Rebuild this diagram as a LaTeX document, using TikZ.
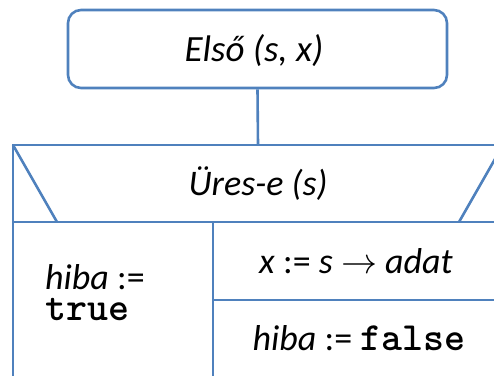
\RequirePackage{fix-cm}
\documentclass[tikz,border=0pt]{standalone}
\usepackage{fontspec}
\setmainfont{Carlito}
\newfontfamily\codefont{lmmonolt10-bold.otf}
\definecolor{nsblue}{RGB}{79,129,189}
\tikzset{
  nsline/.style={draw=nsblue, line width=2.6pt},
  txt/.style={inner sep=0pt, font=\fontsize{36}{30}\selectfont\itshape}
}
\newcommand{\asg}{\textup{:=}}
\newcommand{\cd}[1]{{\codefont\fontsize{40}{30}\selectfont #1}}
\begin{document}
\begin{tikzpicture}[x=1pt,y=-1pt]
\useasboundingbox (0,0) rectangle (494,375);
\clip (0,0) rectangle (494,375);
% start box
\node[nsline, rounded corners=13pt, minimum width=379pt, minimum height=78pt, inner sep=0pt] (start) at (257.5,49) {};
\node[txt, anchor=base, font=\fontsize{37}{30}\selectfont\itshape] (starttext) at (254,61) {Első (s, x)};
% structure corners
\coordinate (tl) at (13,145);
\coordinate (tr) at (503,145);
\coordinate (top) at (258,145);
\coordinate (hl) at (13,222);
\coordinate (hr) at (503,222);
\coordinate (dl) at (57,222);
\coordinate (dr) at (459,222);
\coordinate (bl) at (13,380);
\coordinate (br) at (503,380);
\coordinate (mt) at (213,222);
\coordinate (mb) at (213,380);
\coordinate (rl) at (213,300);
\coordinate (rr) at (503,300);
\draw[nsline] (start.south) -- (top);
\draw[nsline] (bl) -- (tl) -- (tr) -- (br);
\draw[nsline] (hl) -- (hr);
\draw[nsline] (tl) -- (dl);
\draw[nsline] (tr) -- (dr);
\draw[nsline] (mt) -- (mb);
\draw[nsline] (rl) -- (rr);
% texts
\node[txt, anchor=base] (cond) at (258,195) {Üres-e (s)};
\node[txt, anchor=base] (s1) at (356,273) {x \asg{} s $\rightarrow$ adat};
\node[txt, anchor=base] (s2) at (359,350) {hiba \asg{} \cd{false}};
\node[txt, anchor=base west] (e1) at (45,289) {hiba \asg};
\node[txt, anchor=base west] (e2) at (45,320) {\cd{true}};
\end{tikzpicture}
\end{document}
